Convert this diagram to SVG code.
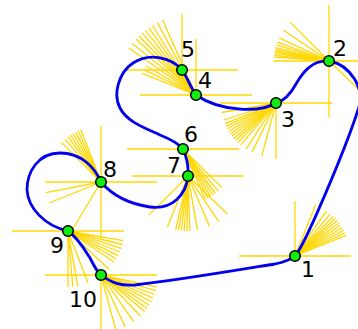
<svg xmlns="http://www.w3.org/2000/svg" width="358" height="329" viewBox="0 0 358 329">
<style>
.g line{stroke:#ffd700;stroke-width:1.3;fill:none}
.curve{fill:none;stroke:#0000ee;stroke-width:2.8;stroke-linejoin:round}
.n circle{fill:#11ee11;stroke:#000;stroke-width:1.5}
.n text{font-family:"DejaVu Sans",sans-serif;font-size:22px;fill:#000}
</style>
<rect width="358" height="329" fill="#fff"/>
<g id="guides" class="g">
<g id="g1">
<line x1="239" y1="256" x2="351" y2="256"/><line x1="295" y1="201" x2="295" y2="256"/>
<line x1="295" y1="256" x2="315.6" y2="205"/><line x1="295" y1="256" x2="326.5" y2="210.9"/><line x1="295" y1="256" x2="330.4" y2="213.9"/><line x1="295" y1="256" x2="333.2" y2="216.4"/><line x1="295" y1="256" x2="335.2" y2="218.5"/><line x1="295" y1="256" x2="337.1" y2="220.6"/><line x1="295" y1="256" x2="338.9" y2="222.9"/><line x1="295" y1="256" x2="340.6" y2="225.2"/><line x1="295" y1="256" x2="342.1" y2="227.7"/><line x1="295" y1="256" x2="343.6" y2="230.2"/><line x1="295" y1="256" x2="344.8" y2="232.8"/><line x1="295" y1="256" x2="346" y2="235.4"/>
</g>
<g id="g2">
<line x1="273" y1="61" x2="385" y2="61"/><line x1="329" y1="5" x2="329" y2="117"/>
<line x1="329" y1="61" x2="290.1" y2="22.1"/><line x1="329" y1="61" x2="283.4" y2="30.2"/><line x1="329" y1="61" x2="279.2" y2="37.8"/><line x1="329" y1="61" x2="277.3" y2="42.2"/><line x1="329" y1="61" x2="276.4" y2="44.9"/><line x1="329" y1="61" x2="275.6" y2="47.7"/><line x1="329" y1="61" x2="275.2" y2="49.6"/><line x1="329" y1="61" x2="274.8" y2="51.5"/><line x1="329" y1="61" x2="274.5" y2="53.3"/><line x1="329" y1="61" x2="274.3" y2="55.3"/><line x1="329" y1="61" x2="274.1" y2="57.2"/>
<line x1="329" y1="61" x2="369" y2="99"/>
</g>
<g id="g3">
<line x1="220" y1="103" x2="332" y2="103"/><line x1="276" y1="103" x2="276" y2="159"/>
<line x1="276" y1="103" x2="221.8" y2="112.5"/><line x1="276" y1="103" x2="223.7" y2="120"/><line x1="276" y1="103" x2="225" y2="123.6"/><line x1="276" y1="103" x2="226.2" y2="126.2"/><line x1="276" y1="103" x2="227.4" y2="128.8"/><line x1="276" y1="103" x2="228.9" y2="131.3"/><line x1="276" y1="103" x2="230.4" y2="133.8"/><line x1="276" y1="103" x2="232.1" y2="136.1"/><line x1="276" y1="103" x2="233.9" y2="138.4"/><line x1="276" y1="103" x2="235.8" y2="140.5"/><line x1="276" y1="103" x2="237.8" y2="142.6"/><line x1="276" y1="103" x2="240.6" y2="145.1"/><line x1="276" y1="103" x2="246" y2="149.1"/><line x1="276" y1="103" x2="251.9" y2="152.4"/><line x1="276" y1="103" x2="261.8" y2="156.1"/>
</g>
<g id="g4">
<line x1="140" y1="95" x2="252" y2="95"/><line x1="196" y1="39" x2="196" y2="95"/>
<line x1="196" y1="95" x2="162.6" y2="20.1"/><line x1="196" y1="95" x2="157.5" y2="22.6"/><line x1="196" y1="95" x2="152.5" y2="25.5"/><line x1="196" y1="95" x2="149" y2="27.8"/><line x1="196" y1="95" x2="145.5" y2="30.4"/><line x1="196" y1="95" x2="142.2" y2="33.1"/><line x1="196" y1="95" x2="139" y2="36"/><line x1="196" y1="95" x2="136" y2="39.1"/><line x1="196" y1="95" x2="132.3" y2="43.4"/><line x1="196" y1="95" x2="128.8" y2="48"/><line x1="196" y1="95" x2="145.8" y2="66"/><line x1="196" y1="95" x2="143.9" y2="69.6"/><line x1="196" y1="95" x2="142.2" y2="73.3"/>
</g>
<g id="g5">
<line x1="126" y1="70" x2="238" y2="70"/><line x1="182" y1="14" x2="182" y2="70"/>
</g>
<g id="g6">
<line x1="127" y1="149" x2="239" y2="149"/>
<line x1="183" y1="149" x2="221.9" y2="187.9"/><line x1="183" y1="149" x2="218.4" y2="191.1"/><line x1="183" y1="149" x2="215.3" y2="193.5"/><line x1="183" y1="149" x2="213" y2="195.1"/><line x1="183" y1="149" x2="210.5" y2="196.6"/><line x1="183" y1="149" x2="208" y2="198"/><line x1="183" y1="149" x2="205.4" y2="199.2"/>
</g>
<g id="g7">
<line x1="132" y1="176" x2="244" y2="176"/>
<line x1="188" y1="176" x2="227.6" y2="214.2"/><line x1="188" y1="176" x2="218.8" y2="221.6"/><line x1="188" y1="176" x2="209.5" y2="226.6"/><line x1="188" y1="176" x2="197.5" y2="230.2"/><line x1="188" y1="176" x2="189.9" y2="231"/><line x1="188" y1="176" x2="187" y2="231"/><line x1="188" y1="176" x2="184.2" y2="230.9"/><line x1="188" y1="176" x2="181.3" y2="230.6"/><line x1="188" y1="176" x2="178.5" y2="230.2"/><line x1="188" y1="176" x2="175.6" y2="229.6"/><line x1="188" y1="176" x2="167.4" y2="227"/><line x1="188" y1="176" x2="149.1" y2="214.9"/>
</g>
<g id="g8">
<line x1="45" y1="182" x2="157" y2="182"/><line x1="101" y1="126" x2="101" y2="238"/>
<line x1="101" y1="182" x2="61.4" y2="142.4"/><line x1="101" y1="182" x2="65" y2="139.1"/><line x1="101" y1="182" x2="68.1" y2="136.7"/><line x1="101" y1="182" x2="70.5" y2="135"/><line x1="101" y1="182" x2="73" y2="133.5"/><line x1="101" y1="182" x2="75.6" y2="132.1"/><line x1="101" y1="182" x2="78.2" y2="130.8"/><line x1="101" y1="182" x2="80.9" y2="129.7"/>
<line x1="101" y1="182" x2="46" y2="192.7"/><line x1="101" y1="182" x2="49.1" y2="203"/><line x1="101" y1="182" x2="72.2" y2="230"/>
</g>
<g id="g9">
<line x1="12" y1="231" x2="124" y2="231"/><line x1="68" y1="231" x2="68" y2="287"/>
<line x1="68" y1="231" x2="123.1" y2="240.7"/><line x1="68" y1="231" x2="122.3" y2="244.5"/><line x1="68" y1="231" x2="121.3" y2="248.3"/><line x1="68" y1="231" x2="119.9" y2="252"/><line x1="68" y1="231" x2="118.3" y2="255.6"/><line x1="68" y1="231" x2="116.5" y2="259"/><line x1="68" y1="231" x2="114.4" y2="262.3"/><line x1="68" y1="231" x2="109" y2="269.2"/><line x1="68" y1="231" x2="88.1" y2="283.3"/><line x1="68" y1="231" x2="77.7" y2="286.1"/><line x1="68" y1="231" x2="72.9" y2="286.8"/>
</g>
<g id="g10">
<line x1="45" y1="275" x2="157" y2="275"/><line x1="101" y1="275" x2="101" y2="331"/>
<line x1="101" y1="275" x2="156.8" y2="286.9"/><line x1="101" y1="275" x2="155.8" y2="290.7"/><line x1="101" y1="275" x2="154.6" y2="294.5"/><line x1="101" y1="275" x2="153.1" y2="298.2"/><line x1="101" y1="275" x2="151.3" y2="301.8"/><line x1="101" y1="275" x2="149.3" y2="305.2"/><line x1="101" y1="275" x2="147.1" y2="308.5"/><line x1="101" y1="275" x2="144.7" y2="311.6"/><line x1="101" y1="275" x2="140.6" y2="316"/><line x1="101" y1="275" x2="133.7" y2="321.7"/><line x1="101" y1="275" x2="125.1" y2="326.7"/><line x1="101" y1="275" x2="115.8" y2="330.1"/>
</g>
</g>
<g id="connectors">
<path class="curve" d="M295,256 C305,245 345,150 358,110 C366,88 350,65 329,61 C312,60 303,72 296,84 C290,95 284,101 276,103 C262,112 222,113 196,95 C190,86 187,77 182,70 C172,58 150,52 133,63 C118,73 113,95 120,108 C127,122 145,128 160,135 C170,139 178,143 183,149 C186,156 189,166 188,176 C186,195 172,210 150,207 C130,204 112,195 101,182 C95,168 82,153 60,153 C38,153 27,172 27,190 C28,208 45,226 68,231 C78,238 85,250 90,258 C94,266 97,272 101,275 C112,283 120,286 135,285 C180,280 250,268 275,264 C285,262 290,260 295,256 Z"/>
</g>
<g id="node1" class="n"><circle cx="295" cy="256" r="5.3"/><text x="301" y="277">1</text></g>
<g id="node2" class="n"><circle cx="329" cy="61" r="5.3"/><text x="333" y="56">2</text></g>
<g id="node3" class="n"><circle cx="276" cy="103" r="5.3"/><text x="281" y="127">3</text></g>
<g id="node4" class="n"><circle cx="196" cy="95" r="5.3"/><text x="198" y="88">4</text></g>
<g id="node5" class="n"><circle cx="182" cy="70" r="5.3"/><text x="181" y="57">5</text></g>
<g id="node6" class="n"><circle cx="183" cy="149" r="5.3"/><text x="184" y="142">6</text></g>
<g id="node7" class="n"><circle cx="188" cy="176" r="5.3"/><text x="167" y="173">7</text></g>
<g id="node8" class="n"><circle cx="101" cy="182" r="5.3"/><text x="103" y="177">8</text></g>
<g id="node9" class="n"><circle cx="68" cy="231" r="5.3"/><text x="50" y="253">9</text></g>
<g id="node10" class="n"><circle cx="101" cy="275" r="5.3"/><text x="69" y="307">10</text></g>
</svg>
